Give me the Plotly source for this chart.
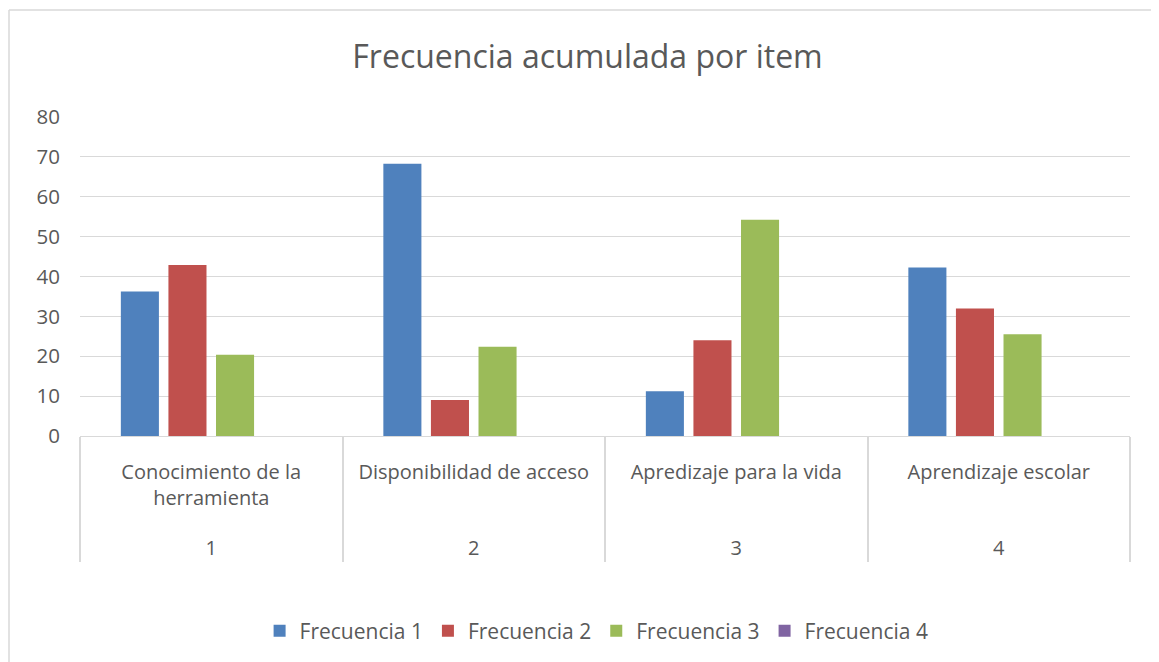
import plotly.graph_objects as go

numbers = ["1", "2", "3", "4"]
items = ["Conocimiento de la<br>herramienta<br><span style='font-size:64px'>\u00a0</span>",
         "Disponibilidad de acceso",
         "Apredizaje para la vida", "Aprendizaje escolar"]
series_names = ["Frecuencia 1", "Frecuencia 2", "Frecuencia 3", "Frecuencia 4"]
frecuencia_1 = [36.25, 68.25, 11.25, 42.25]
frecuencia_2 = [42.9, 9.0, 24.0, 32.0]
frecuencia_3 = [20.4, 22.4, 54.25, 25.5]
frecuencia_4 = [0, 0, 0, 0]
colors = ["#4F81BD", "#C0504D", "#9BBB59", "#8064A2"]

FONT = "Open Sans"
TXT = "#595959"

# page body has an 8px margin: figure is offset by (8, 8)
W, H = 1151, 654
L, R, T, B = 72, 29, 109, 226
PH = H - T - B
PW = W - L - R

fig = go.Figure()
for name, vals, col in zip(series_names,
                           [frecuencia_1, frecuencia_2, frecuencia_3, frecuencia_4],
                           colors):
    fig.add_trace(go.Bar(x=[numbers, items], y=vals, name=name,
                         marker=dict(color=col, line=dict(width=0))))

fig.update_layout(
    width=W, height=H,
    paper_bgcolor="white", plot_bgcolor="white",
    margin=dict(l=L, r=R, t=T, b=B, autoexpand=False),
    barmode="group", bargap=0.275, bargroupgap=0.2,
    font=dict(family=FONT, color=TXT, size=20),
    title=dict(text="Frecuencia acumulada por item", x=0.5035, xanchor="center",
               y=1 - 49 / H, yanchor="middle",
               font=dict(family=FONT, size=32, color=TXT)),
    legend=dict(orientation="h", x=0.492, xanchor="center", y=-(623 - (T + PH)) / PH,
                yanchor="middle",
                font=dict(family=FONT, size=21, color=TXT), traceorder="normal",
                itemwidth=30),
    showlegend=True,
)
fig.update_yaxes(range=[0, 80], dtick=10, showgrid=True, gridcolor="#D9D9D9",
                 gridwidth=1, zeroline=False, showline=False,
                 tickfont=dict(family=FONT, size=20.5, color=TXT), ticks="",
                 ticklabelstandoff=19)
fig.update_xaxes(type="multicategory", showline=True, linecolor="#D9D9D9", linewidth=1,
                 showdividers=True, dividercolor="#D9D9D9", dividerwidth=1.5,
                 tickfont=dict(family=FONT, size=20, color=TXT), ticks="",
                 ticklabelstandoff=18)

# chart border (top and left edges visible)
ytop = (T + PH - 2) / PH
xleft = -(L - 1) / PW
fig.add_shape(type="line", xref="paper", yref="paper",
              x0=xleft, x1=(W - L) / PW + 0.01, y0=ytop, y1=ytop,
              line=dict(color="#D9D9D9", width=1.5))
fig.add_shape(type="line", xref="paper", yref="paper",
              x0=xleft, x1=xleft, y0=ytop, y1=-(H - T - PH + 5) / PH,
              line=dict(color="#D9D9D9", width=1.5))

fig.write_html("out.html")
